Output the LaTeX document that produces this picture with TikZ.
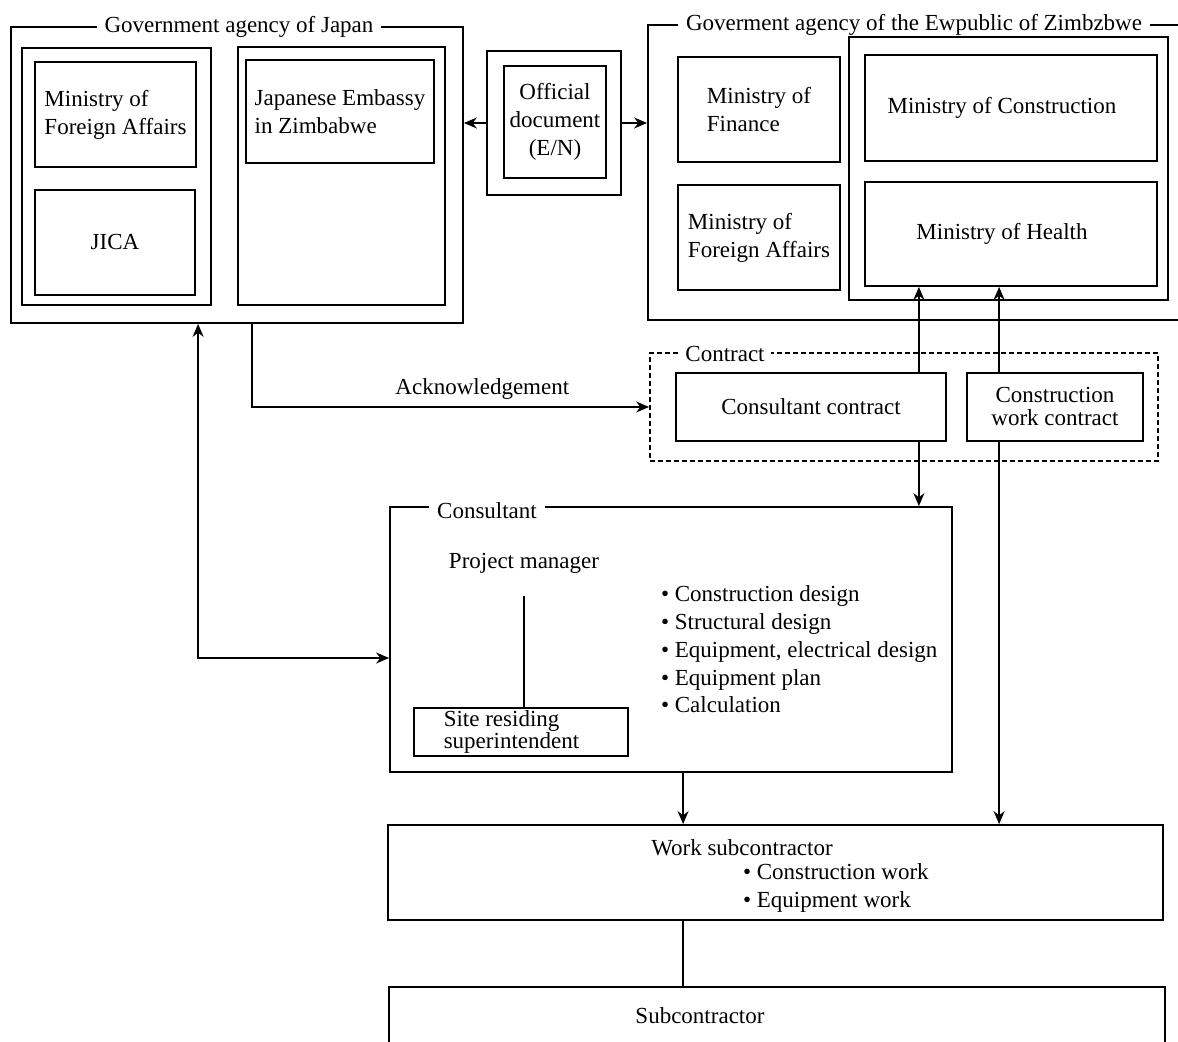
\documentclass[tikz,border=0pt]{standalone}
\usepackage{fontspec}
\setmainfont{Liberation Serif}
\usetikzlibrary{arrows.meta}

\begin{document}
\begin{tikzpicture}[
    x=0.5pt, y=-0.5pt,
    every node/.style={font=\fontsize{11.5}{14}\selectfont},
    box/.style={draw, line width=0.9pt, align=left, inner sep=2pt},
    title/.style={fill=white, inner xsep=4pt, inner ysep=0.5pt},
    flow/.style={-{Stealth[length=6.5pt, width=5.5pt]}, line width=0.9pt},
    both/.style={{Stealth[length=6.5pt, width=5.5pt]}-{Stealth[length=6.5pt, width=5.5pt]}, line width=0.9pt},
    link/.style={line width=0.9pt}
]
\useasboundingbox (0,0) rectangle (1178,1042);

% Japan side
\node[box, minimum width=226pt, minimum height=148pt] (japan) at (237,175) {};
\node[title] (japantitle) at (239,27) {Government agency of Japan};
\node[box, minimum width=94.5pt, minimum height=128.5pt] (jleft) at (116.5,176.5) {};
\node[box, minimum width=103.5pt, minimum height=129pt] (jright) at (341.5,176) {};
\node[box, minimum width=80.5pt, minimum height=52.5pt] (jmofa) at (115.5,114.5) {Ministry of\\Foreign Affairs};
\node[box, minimum width=80pt, minimum height=52.5pt] (jica) at (115,242.5) {JICA};
\node[box, minimum width=94pt, minimum height=51.5pt] (embassy) at (340,111.5) {Japanese Embassy\\in Zimbabwe};

% exchange of notes
\node[box, minimum width=67pt, minimum height=72pt] (official) at (554,123) {};
\node[box, align=center, minimum width=51pt, minimum height=56pt] (note) at (555,122) {Official\\document\\(E/N)};

% Zimbabwe side
\node[box, minimum width=276pt, minimum height=147.5pt] (zimbabwe) at (924,172.5) {};
\node[title] (zimtitle) at (914,25) {Goverment agency of the Ewpublic of Zimbzbwe};
\node[box, minimum width=159.5pt, minimum height=131.5pt] (zright) at (1008.5,168.5) {};
\node[box, minimum width=146pt, minimum height=53pt] (construction) at (1011,108) {Ministry of Construction\hspace*{9pt}};
\node[box, minimum width=146pt, minimum height=52pt] (health) at (1011,234) {Ministry of Health\hspace*{9pt}};
\node[box, minimum width=81pt, minimum height=52.5pt] (finance) at (759,109.5) {Ministry of\\Finance};
\node[box, minimum width=81pt, minimum height=52.5pt] (zmofa) at (759,237.5) {Ministry of\\Foreign Affairs};

% contracts
\node[box, dash pattern=on 2.5pt off 1.5pt, minimum width=254pt, minimum height=54pt] (contract) at (904,407) {};
\node[title, inner xsep=3pt] (contracttitle) at (725,354) {Contract};
\node[box, align=center, minimum width=135pt, minimum height=34pt] (conscontract) at (811,407) {Consultant contract};
\node[box, align=center, minimum width=88pt, minimum height=34pt, inner ysep=1pt,
      font=\fontsize{11.5}{11.5}\selectfont] (workcontract) at (1055,407) {Construction\\work contract};

% consultant
\node[box, minimum width=281pt, minimum height=132.5pt] (consultant) at (671,639.5) {};
\node[title] (consultanttitle) at (487,511) {Consultant};
\node (manager) at (524,563) {Project manager};
\node[box, minimum width=107pt, minimum height=24pt, inner ysep=1pt,
      font=\fontsize{11.5}{11}\selectfont] (site) at (521,732) {Site residing\hspace*{18pt}\\superintendent\hspace*{9.5pt}};
\node[anchor=west, align=left, font=\fontsize{11.5}{13.85}\selectfont] (tasks) at (654,649.5)
    {\textbullet\ Construction design\\\textbullet\ Structural design\\\textbullet\ Equipment, electrical design\\\textbullet\ Equipment plan\\\textbullet\ Calculation};

% contractors
\node[box, minimum width=387.5pt, minimum height=47.5pt] (worksub) at (775.5,872.5) {};
\node (worksubtitle) at (742,848) {Work subcontractor};
\node[anchor=west, align=left] (worksubtasks) at (736,888) {\textbullet\ Construction work\\\textbullet\ Equipment work};
\node[box, minimum width=388pt, minimum height=43pt] (subcontractor) at (777,1030) {};
\node (subtitle) at (700,1016) {Subcontractor};

% connectors
\coordinate (ccup) at ([xshift=-14pt]conscontract.north east);
\coordinate (ccdown) at ([xshift=-14pt]conscontract.south east);
\coordinate (wcup) at ([xshift=16.5pt]workcontract.north west);
\coordinate (wcdown) at ([xshift=16.5pt]workcontract.south west);
\coordinate (ackstart) at ([xshift=121pt]japan.south west);
\coordinate (jpstart) at ([xshift=94pt]japan.south west);
\coordinate (cstart) at ([xshift=147pt]consultant.south west);
\coordinate (wsstart) at ([xshift=148pt]worksub.south west);

\draw[flow] (official.west) -- (official.west -| japan.east);
\draw[flow] (official.east) -- (official.east -| zimbabwe.west);
\draw[flow] (ackstart) |- node[above, pos=0.79] {Acknowledgement} (contract.west);
\draw[both] (jpstart) |- ([yshift=-9.25pt]consultant.west);
\draw[flow] (ccup) -- (ccup |- health.south);
\draw[flow] (ccdown) -- (ccdown |- consultant.north);
\draw[flow] (wcup) -- (wcup |- health.south);
\draw[flow] (wcdown) -- (wcdown |- worksub.north);
\draw[flow] (cstart) -- (cstart |- worksub.north);
\draw[link] (wsstart) -- (wsstart |- subcontractor.north);
\draw[link, shorten <=8pt] (manager.south) -- (manager.south |- site.north);
\end{tikzpicture}
\end{document}
